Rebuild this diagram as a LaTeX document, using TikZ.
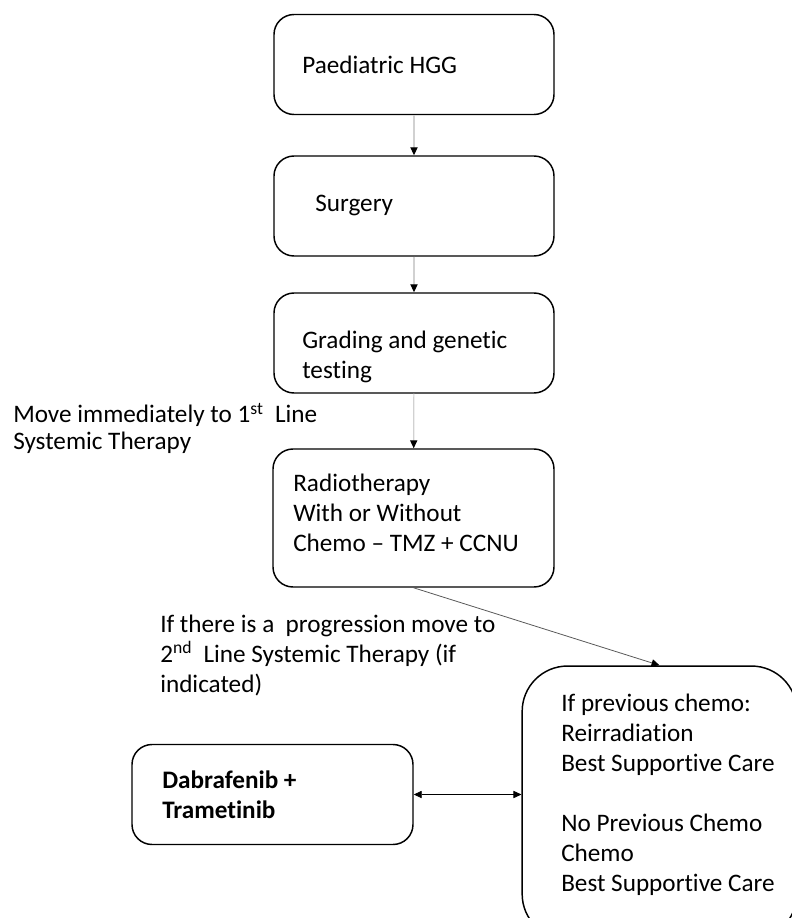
\documentclass[tikz,border=0pt]{standalone}
\usepackage{fontspec}
\setmainfont{Carlito}[Ligatures=NoCommon]
\usetikzlibrary{arrows.meta}
\definecolor{raillight}{rgb}{0.82,0.82,0.82}
\definecolor{raildark}{rgb}{0.35,0.35,0.35}

\begin{document}
\begin{tikzpicture}[
  x=0.75pt, y=-0.75pt,
  every node/.style={font=\fontsize{18.9}{22.5}\selectfont},
  stepbox/.style={rectangle, draw=black, line width=1.1pt, rounded corners=15pt, minimum width=210pt, minimum height=75pt, inner sep=0pt},
  bigbox/.style={stepbox, rounded corners=34pt, minimum width=206pt, minimum height=205pt},
  boxtext/.style={anchor=west, align=left, inner sep=0pt},
  sidetext/.style={anchor=west, align=left, inner sep=0pt},
  downrail/.style={-{Triangle[length=2.1mm, width=1.9mm, black]}, raillight, line width=0.9pt},
  diagrail/.style={-{Triangle[length=2.1mm, width=1.9mm, black]}, raildark, line width=0.6pt},
  tworail/.style={{Triangle[length=2.1mm, width=1.9mm, black]}-{Triangle[length=2.1mm, width=1.9mm, black]}, black, line width=0.6pt},
]
\useasboundingbox (0,0) rectangle (792,918);

% ---- main column ----
\node[stepbox] (hgg) at (414,64.5) {};
\node[stepbox] (surgery) at (414,206) {};
\node[stepbox] (grading) at (414,343) {};
\node[stepbox, minimum width=210.75pt, minimum height=103.5pt] (radio) at (413.5,518) {};
% ---- second line boxes ----
\node[stepbox, minimum width=210.75pt] (dabra) at (272.5,794.5) {};
\node[bigbox] (second) at (659.5,802.7) {};

% ---- box texts ----
\node[boxtext] (thgg) at (302,65) {Paediatric HGG};
\node[boxtext] (tsurgery) at (315,205) {Surgery};
\node[boxtext] (tgrading) at (302,356.5) {Grading and genetic\\testing};
\node[boxtext] (tradio) at (293,513) {Radiotherapy\\With or Without\\Chemo -- TMZ + CCNU};
\node[boxtext, font=\fontsize{18.9}{22.5}\selectfont\bfseries] (tdabra) at (162,795) {Dabrafenib +\\Trametinib};
\node[boxtext] (tsecond) at (561,795) {If previous chemo:\\Reirradiation\\Best Supportive Care\\[22.5pt]No Previous Chemo\\Chemo\\Best Supportive Care};

% ---- side notes ----
\node[sidetext, font=\fontsize{18.9}{20.25}\selectfont] (firstline) at (13,428.5) {Move immediately to 1\textsuperscript{st}~ Line\\Systemic Therapy};
\node[sidetext] (progress) at (160,655) {If there is a~ progression move to\\2\textsuperscript{nd}~ Line Systemic Therapy (if\\indicated)};

% ---- arrows ----
\draw[downrail] (hgg) -- (surgery);
\draw[downrail] (surgery) -- (grading);
\draw[downrail] (grading) -- (radio);
\draw[diagrail] (radio.south) -- (second.north);
\draw[tworail] (dabra.east) -- (dabra.east -| second.west);

\end{tikzpicture}
\end{document}
